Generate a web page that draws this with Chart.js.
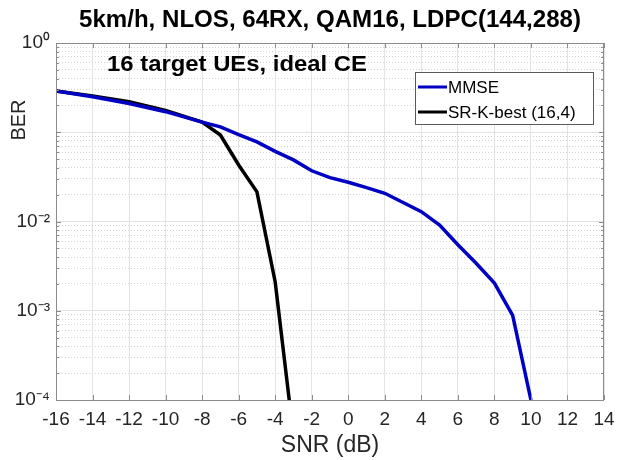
<!DOCTYPE html>
<html><head><meta charset="utf-8">
<script src="https://cdn.jsdelivr.net/npm/chart.js@4.4.1/dist/chart.umd.min.js"></script>
<style>html,body{margin:0;padding:0;background:#fff;}#wrap{width:618px;height:460px;}</style>
</head><body><div id="wrap"><canvas id="c" width="618" height="460"></canvas></div>
<script>
// ---- data ----
const titleText = '5km/h, NLOS, 64RX, QAM16, LDPC(144,288)';
const noteText = '16 target UEs, ideal CE';
const xTitle = 'SNR (dB)';
const yTitle = 'BER';
const seriesNames = ['MMSE', 'SR-K-best (16,4)'];
const xMin = -16, xMax = 14, xStep = 2;
const yTickValues = [1e-4, 1e-3, 1e-2, 1];
const yTickLabels = ['10\u207B\u2074', '10\u207B\u00B3', '10\u207B\u00B2', '10\u2070'];

const snrMMSE = [-16, -14, -12, -10, -8, -7, -6, -5, -4, -3, -2, -1, 0, 1, 2, 4, 5, 6, 7, 8, 9, 10];
const berMMSE = [0.29, 0.25, 0.21, 0.17, 0.13, 0.115, 0.094, 0.078, 0.061, 0.049, 0.037, 0.031, 0.0275, 0.024, 0.0207, 0.0129, 0.0091, 0.0055, 0.0034, 0.00204, 0.00089, 0.0001];

const snrSR = [-16, -14, -12, -10, -8, -7, -6, -5, -4, -3];
const berSR = [0.29, 0.255, 0.22, 0.175, 0.13, 0.093, 0.043, 0.0215, 0.0021, 0.00004];

// ---- chart ----
const FONT = "'Liberation Sans', Arial, Helvetica, sans-serif";
const blue = '#0000c4', black = '#000000';
const toPts = (xs, ys) => xs.map((x, i) => ({x: x, y: ys[i]}));
const isDecade = v => Math.abs(Math.log10(v) - Math.round(Math.log10(v))) < 1e-6;

const allLogTicks = [];
for (let e = -4; e < 0; e++) for (let m = 1; m <= 9; m++) allLogTicks.push(m * Math.pow(10, e));
allLogTicks.push(1);

function stretchedText(ctx, text, cx, cy, font, targetW, align) {
  ctx.save();
  ctx.font = font;
  const w = ctx.measureText(text).width;
  const sx = targetW / w;
  ctx.translate(cx, cy);
  ctx.scale(sx, 1);
  ctx.textAlign = align;
  ctx.textBaseline = 'middle';
  ctx.fillText(text, 0, 0);
  ctx.restore();
}

const framePlugin = {
  id: 'frame',
  afterDatasetsDraw(chart) {
    const {ctx, chartArea: a, scales} = chart;
    ctx.save();
    ctx.strokeStyle = '#8c8c8c';
    ctx.lineWidth = 1;
    ctx.strokeRect(a.left + 0.5, a.top + 0.5, a.right - a.left - 1, a.bottom - a.top);
    ctx.beginPath();
    for (let v = xMin; v <= xMax; v += xStep) {
      const px = Math.round(scales.x.getPixelForValue(v)) + 0.5;
      ctx.moveTo(px, a.bottom); ctx.lineTo(px, a.bottom - 5);
      ctx.moveTo(px, a.top); ctx.lineTo(px, a.top + 5);
    }
    allLogTicks.forEach(v => {
      const py = Math.round(scales.y.getPixelForValue(v)) + 0.5;
      const len = isDecade(v) ? 5 : 3;
      ctx.moveTo(a.left, py); ctx.lineTo(a.left + len, py);
      ctx.moveTo(a.right, py); ctx.lineTo(a.right - len, py);
    });
    ctx.stroke();
    ctx.restore();
  },
  afterDraw(chart) {
    const {ctx, chartArea: a} = chart;
    ctx.save();
    ctx.fillStyle = '#000';
    // title
    stretchedText(ctx, titleText, (a.left + a.right) / 2, 21, 'bold 23px ' + FONT, 502, 'center');
    // annotation
    stretchedText(ctx, noteText, a.left + 51, 65, 'bold 22px ' + FONT, 260, 'left');
    // y title
    ctx.save();
    ctx.translate(19, 120);
    ctx.rotate(-Math.PI / 2);
    ctx.textAlign = 'center';
    ctx.textBaseline = 'middle';
    ctx.font = '20px ' + FONT;
    ctx.fillStyle = '#262626';
    ctx.fillText(yTitle, 0, 0);
    ctx.restore();
    // legend
    const bx = 415, by = 72, bw = 178, bh = 52;
    ctx.fillStyle = '#fff';
    ctx.fillRect(bx, by, bw, bh);
    ctx.strokeStyle = '#5a5a5a';
    ctx.lineWidth = 1;
    ctx.strokeRect(bx + 0.5, by + 0.5, bw, bh);
    ctx.font = '17px ' + FONT;
    ctx.textAlign = 'left';
    ctx.textBaseline = 'middle';
    chart.data.datasets.forEach((ds, i) => {
      const y = by + 15 + i * 25;
      ctx.strokeStyle = ds.borderColor;
      ctx.lineWidth = 3;
      ctx.beginPath(); ctx.moveTo(bx + 3, y); ctx.lineTo(bx + 32, y); ctx.stroke();
      ctx.fillStyle = '#000';
      ctx.fillText(ds.label, bx + 33, y + 1);
    });
    ctx.restore();
  }
};

new Chart(document.getElementById('c'), {
  type: 'line',
  data: {
    datasets: [
      {label: seriesNames[0], data: toPts(snrMMSE, berMMSE), borderColor: blue, backgroundColor: blue,
       borderWidth: 3.5, pointRadius: 0, tension: 0, fill: false},
      {label: seriesNames[1], data: toPts(snrSR, berSR), borderColor: black, backgroundColor: black,
       borderWidth: 3.5, pointRadius: 0, tension: 0, fill: false}
    ]
  },
  options: {
    responsive: false,
    animation: false,
    devicePixelRatio: 1,
    layout: {padding: {left: 0, right: 14, top: 43, bottom: 0}},
    plugins: {
      legend: {display: false},
      tooltip: {enabled: false},
      title: {display: false}
    },
    scales: {
      x: {
        type: 'linear', min: xMin, max: xMax,
        afterFit(s) { s.height = 60; s.paddingLeft = 0; s.paddingRight = 0; },
        ticks: {stepSize: xStep, color: '#262626', font: {family: FONT, size: 19}, padding: 8,
                maxRotation: 0, autoSkip: false},
        grid: {color: '#e3e3e3', lineWidth: 1, drawTicks: false},
        border: {display: false},
        title: {display: true, text: xTitle, color: '#262626', font: {family: FONT, size: 23, lineHeight: 1.2},
                padding: {top: 0, bottom: 1}}
      },
      y: {
        type: 'logarithmic', min: 1e-4, max: 1,
        afterFit(s) { s.width = 56; s.paddingTop = 0; s.paddingBottom = 0; },
        afterBuildTicks(s) { s.ticks = allLogTicks.map(v => ({value: v, major: isDecade(v)})); },
        ticks: {autoSkip: false, color: '#262626', font: {family: FONT, size: 19}, padding: 6,
                callback(v) { const i = yTickValues.findIndex(t => Math.abs(t - v) / t < 1e-6); return i >= 0 ? yTickLabels[i] : ''; }},
        grid: {drawTicks: false, lineWidth: 1,
               color(ctx) { return ctx.tick && !isDecade(ctx.tick.value) ? '#d4d4d4' : '#e3e3e3'; }},
        border: {display: false,
                 dash(ctx) { return ctx.tick && !isDecade(ctx.tick.value) ? [1, 2] : []; }}
      }
    }
  },
  plugins: [framePlugin]
});
</script></body></html>
